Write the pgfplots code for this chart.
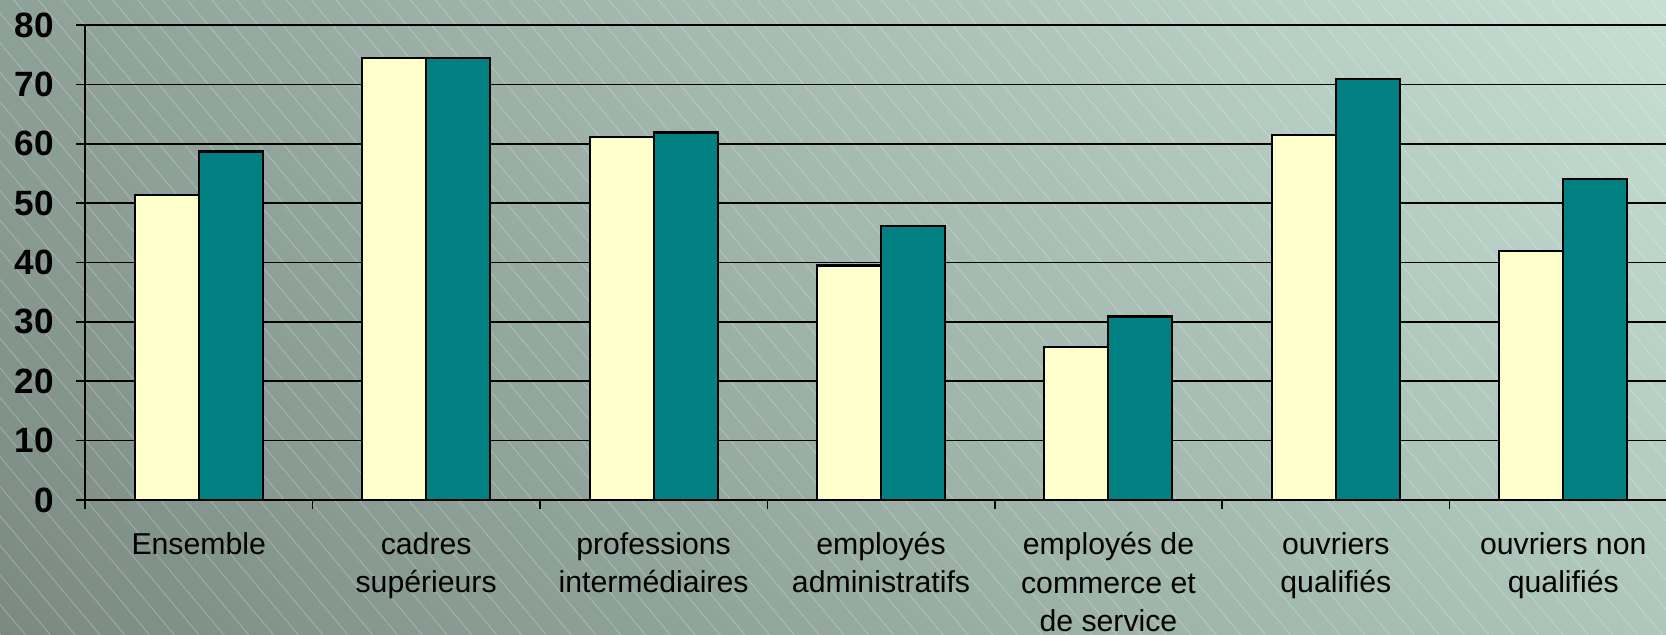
\documentclass[border=0pt]{standalone}
\usepackage{fontspec}
\setmainfont{Liberation Sans}
\usepackage{pgfplots}
\pgfplotsset{compat=1.18}
\usetikzlibrary{patterns.meta, shadings}

\definecolor{barY}{HTML}{FFFFCC}
\definecolor{barT}{HTML}{008080}
\definecolor{bgLL}{HTML}{7A8A83}
\definecolor{bgUL}{HTML}{8EA198}
\definecolor{bgUR}{HTML}{C6DED4}
\definecolor{bgLR}{HTML}{AEC6BC}

\begin{document}
\begin{tikzpicture}
  \useasboundingbox (0,0) rectangle (16.66,6.34);
  \clip (0,0) rectangle (16.66,6.34);
  % background: diagonal gradient with fine hatching
  \shade[lower left=bgLL, upper left=bgUL, upper right=bgUR, lower right=bgLR]
    (0,0) rectangle (16.66,6.34);
  \fill[pattern={Lines[angle=-50, distance=0.19cm, line width=0.25pt]},
        pattern color=white, opacity=0.25] (0,0) rectangle (16.66,6.34);

  \begin{axis}[
      at={(0.85cm,1.34cm)}, anchor=south west,
      scale only axis,
      width=15.92cm, height=4.75cm,
      xmin=-0.5, xmax=6.5,
      ymin=0, ymax=80,
      ytick={0,10,...,80},
      axis lines*=left,
      axis line style={black, line width=0.45pt},
      tick align=outside,
      major tick length=0.085cm,
      tick style={black, line width=0.45pt},
      ymajorgrids,
      grid style={black, line width=0.45pt},
      ybar=0pt, bar width=0.64cm,
      xtick={-0.5,0.5,...,6.5},
      xticklabels={},
      extra x ticks={0,1,2,3,4,5,6},
      extra x tick labels={Ensemble, cadres\\supérieurs, professions\\intermédiaires,
        employés\\administratifs, employés de\\commerce et\\de service,
        ouvriers\\qualifiés, ouvriers non\\qualifiés},
      extra x tick style={major tick length=0pt, grid=none},
      x tick label style={align=center, font=\fontsize{8.6}{10.9}\selectfont, yshift=-0.2cm},
      y tick label style={font=\fontsize{10}{12}\selectfont\bfseries, xshift=-0.1cm},
      /pgf/number format/assume math mode=true,
      clip=false,
    ]
    \addplot[fill=barY, draw=black, line width=0.6pt] coordinates {
      (0,51.3) (1,74.4) (2,61.2) (3,39.5) (4,25.8) (5,61.5) (6,41.9)
    };
    \addplot[fill=barT, draw=black, line width=0.6pt] coordinates {
      (0,58.7) (1,74.5) (2,61.9) (3,46.2) (4,30.9) (5,70.9) (6,54.1)
    };
  \end{axis}
\end{tikzpicture}
\end{document}
